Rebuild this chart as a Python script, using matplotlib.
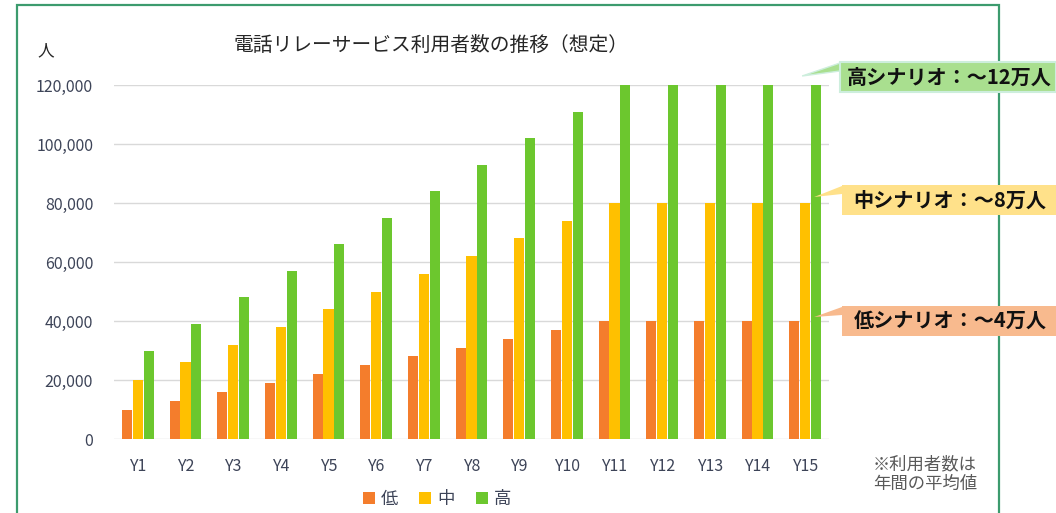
import matplotlib.pyplot as plt
from matplotlib.patches import Rectangle, Polygon
import numpy as np

plt.rcParams['font.family'] = ['Noto Sans CJK JP', 'DejaVu Sans']

YEARS = ['Y%d' % i for i in range(1, 16)]
LOW = [10000, 13000, 16000, 19000, 22000, 25000, 28000, 31000, 34000, 37000,
       40000, 40000, 40000, 40000, 40000]
MID = [20000, 26000, 32000, 38000, 44000, 50000, 56000, 62000, 68000, 74000,
       80000, 80000, 80000, 80000, 80000]
HIGH = [30000, 39000, 48000, 57000, 66000, 75000, 84000, 93000, 102000, 111000,
        120000, 120000, 120000, 120000, 120000]
LEGENDS = ['低', '中', '高']
COLORS = ['#F47D2C', '#FFC000', '#6CC72E']
CALLOUTS = ['高シナリオ：～12万人', '中シナリオ：～8万人', '低シナリオ：～4万人']
CALLOUT_COLORS = ['#A9DF8F', '#FFE18A', '#F8BA8E']
TICKCOL = '#3d4458'

W, H = 1056, 513
fig = plt.figure(figsize=(W / 100, H / 100), dpi=100)
ax = fig.add_axes([114 / W, 1 - 439 / H, (829 - 114) / W, (439 - 85) / H])

x = np.arange(len(YEARS))
bw = 0.21
offs = [-0.23, 0.0, 0.23]
for vals, col, lab, off in zip([LOW, MID, HIGH], COLORS, LEGENDS, offs):
    ax.bar(x + off, vals, bw, color=col, label=lab, zorder=3)

ax.set_xlim(-0.5, len(YEARS) - 0.5)
ax.set_ylim(0, 120000)
ax.set_yticks(np.arange(0, 120001, 20000))
ax.set_yticklabels(['{:,}'.format(v) for v in range(0, 120001, 20000)])
ax.set_xticks(x)
ax.set_xticklabels(YEARS)
ax.grid(axis='y', color='#d9d9d9', lw=1, zorder=0)
for s in ax.spines.values():
    s.set_visible(False)
ax.tick_params(length=0, labelsize=11.5, colors=TICKCOL)
ax.tick_params(axis='y', pad=15)
ax.tick_params(axis='x', pad=14)

fig.text(431 / W, 1 - 45 / H, '電話リレーサービス利用者数の推移（想定）', ha='center', va='center',
         fontsize=14.2, color='#262626')
fig.text(46 / W, 1 - 51 / H, '人', ha='center', va='center', fontsize=12, color='#262626')
fig.text(925 / W, 1 - 474 / H, '※利用者数は\n年間の平均値', ha='center', va='center',
         fontsize=12.5, color='#595959', linespacing=1.15)

fig.legend(loc='center', bbox_to_anchor=(437 / W, 1 - 499 / H), ncol=3, frameon=False,
           fontsize=12.5, handlelength=0.7, handleheight=0.7, handletextpad=0.35,
           columnspacing=1.2, labelcolor=TICKCOL)

# green frame
fig.patches.append(Rectangle((17 / W, -0.05), (999 - 17) / W, 1.05 - 5 / H,
                             transform=fig.transFigure, fill=False,
                             edgecolor='#3c9b6e', lw=1.6, zorder=0))

# callouts pointing at the last bar of each series
fig.canvas.draw()
tips = [(x[-1] + offs[2], HIGH[-1]), (x[-1] + offs[2], MID[-1]), (x[-1] + offs[2], LOW[-1])]
tip_dx = [-14, -2, -2]
tip_dy = [9, 6, 4]
box_tops = [62, 185, 306]
box_left = [840, 842, 842]
for i, (txt, bc, tip, top, bl) in enumerate(zip(CALLOUTS, CALLOUT_COLORS, tips, box_tops, box_left)):
    px, py = ax.transData.transform(tip)
    px += tip_dx[i]
    py += tip_dy[i]
    bh = 30
    y0 = H - top - bh
    edge = '#cdeedd' if i == 0 else 'none'
    fig.patches.append(Polygon([(px / W, py / H), (bl / W, (H - top - 1) / H),
                                (bl / W, (H - top - 9) / H)], closed=True,
                               transform=fig.transFigure, facecolor=bc, edgecolor=edge,
                               lw=1, zorder=5))
    fig.patches.append(Rectangle((bl / W, y0 / H), (W - bl) / W, bh / H,
                                 transform=fig.transFigure, facecolor=bc, edgecolor=edge,
                                 lw=1.5, zorder=5))
    fig.text((bl + W) / 2 / W + 1 / W, (y0 + bh / 2) / H, txt, ha='center', va='center',
             fontsize=14.5, fontweight='bold', color='#111111', zorder=6)

fig.savefig('out.png', dpi=100)
